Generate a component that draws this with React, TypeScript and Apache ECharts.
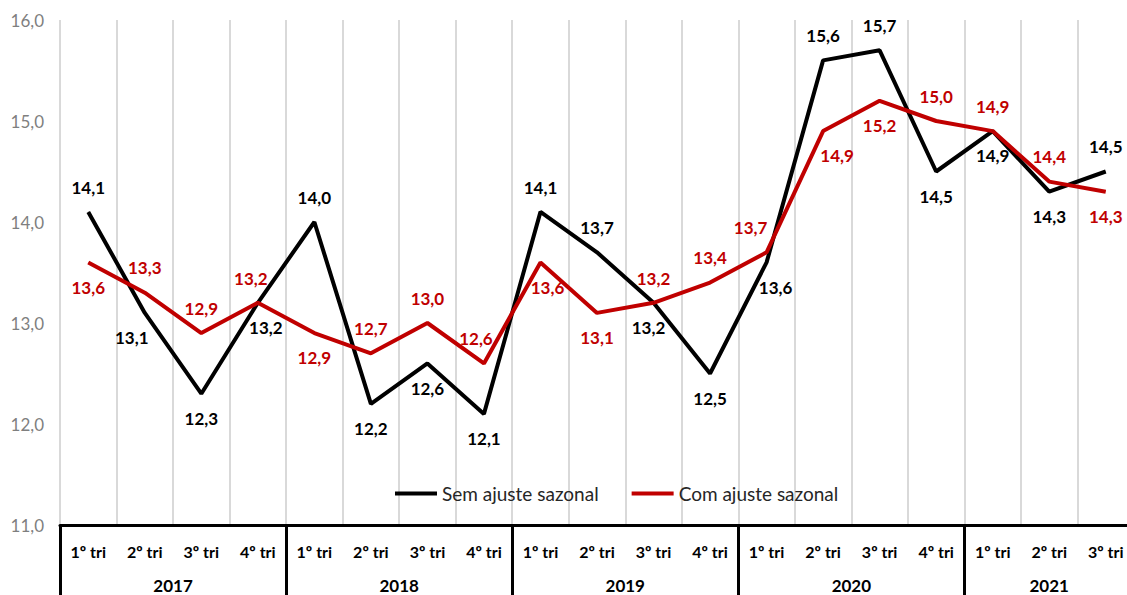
import React, { useEffect, useRef } from "react";
import * as echarts from "echarts";

const quarters = [
  "1º tri", "2º tri", "3º tri", "4º tri",
  "1º tri", "2º tri", "3º tri", "4º tri",
  "1º tri", "2º tri", "3º tri", "4º tri",
  "1º tri", "2º tri", "3º tri", "4º tri",
  "1º tri", "2º tri", "3º tri",
];
const years = ["2017", "2018", "2019", "2020", "2021"];
const quartersPerYear = [4, 4, 4, 4, 3];
const semAjuste = [14.1, 13.1, 12.3, 13.2, 14.0, 12.2, 12.6, 12.1, 14.1, 13.7, 13.2, 12.5, 13.6, 15.6, 15.7, 14.5, 14.9, 14.3, 14.5];
const comAjuste = [13.6, 13.3, 12.9, 13.2, 12.9, 12.7, 13.0, 12.6, 13.6, 13.1, 13.2, 13.4, 13.7, 14.9, 15.2, 15.0, 14.9, 14.4, 14.3];
const yTicks = { min: 11, max: 16, interval: 1 };

const fmt = (v: number) => v.toFixed(1).replace(".", ",");
const FONT = "Lato, 'Open Sans', sans-serif";

// horizontal label nudges (px), as Excel placed a few labels sideways
const semNudge: Record<number, number> = { 1: -13, 3: 8, 10: -5, 12: 9 };
const comNudge: Record<number, number> = { 3: -7, 7: -8, 8: 7, 12: -16, 13: 14 };

export default function App() {
  const ref = useRef<HTMLDivElement>(null);
  useEffect(() => {
    if (!ref.current) return;
    const chart = echarts.init(ref.current, null, { renderer: "svg" });

    const yearCenters: Record<string, string> = {};
    const yearStarts: number[] = [];
    let acc = 0;
    quartersPerYear.forEach((n, k) => {
      yearStarts.push(acc);
      yearCenters[String(acc + n / 2)] = years[k];
      acc += n;
    });

    const labelBase = {
      show: true,
      fontFamily: FONT,
      fontWeight: "bold" as const,
      fontSize: 17,
      distance: 16,
      formatter: (p: any) => fmt(Number(p.value)),
    };

    const semData = semAjuste.map((v, i) => ({
      value: v,
      label: { position: v > comAjuste[i] ? "top" : "bottom" },
    }));
    const comData = comAjuste.map((v, i) => ({
      value: v,
      label: { position: semAjuste[i] > v ? "bottom" : "top" },
    }));

    const lineSeries = (name: string, data: number[], color: string) => ({
      name,
      type: "line",
      data,
      symbol: "none",
      itemStyle: { color },
      lineStyle: { color, width: 4 },
      z: 2,
    });
    const labelSeries = (name: string, data: any[], color: string, nudge: Record<number, number>) => ({
      name,
      type: "line",
      data,
      symbol: "circle",
      symbolSize: 0.5,
      showSymbol: true,
      itemStyle: { color },
      lineStyle: { width: 0, opacity: 0 },
      label: { ...labelBase, color },
      labelLayout: (p: any) => ({ dx: nudge[p.dataIndex] || 0, hideOverlap: false }),
      silent: true,
      zlevel: 1,
      z: 5,
    });

    chart.setOption({
      animation: false,
      grid: { left: 60, top: 20, width: 1074, height: 505, outerBoundsMode: "none" },
      legend: {
        left: 390,
        top: 479,
        icon: "rect",
        itemWidth: 42,
        itemHeight: 4,
        itemGap: 33,
        textStyle: { fontFamily: FONT, fontSize: 19, color: "#262626" },
        data: ["Sem ajuste sazonal", "Com ajuste sazonal"],
      },
      xAxis: [
        {
          type: "category",
          data: quarters,
          boundaryGap: true,
          axisLine: { lineStyle: { color: "#000", width: 3 } },
          axisTick: {
            show: true,
            length: 72,
            lineStyle: { color: "#000", width: 3 },
            interval: (i: number) => yearStarts.includes(i),
          },
          axisLabel: {
            interval: 0,
            margin: 18,
            fontFamily: FONT,
            fontWeight: "bold",
            fontSize: 16,
            color: "#000",
          },
          splitLine: { show: true, lineStyle: { color: "#d9d9d9", width: 2 } },
        },
        {
          type: "value",
          position: "bottom",
          min: 0,
          max: 19,
          interval: 0.5,
          offset: 48,
          axisLine: { show: false },
          axisTick: { show: false },
          splitLine: { show: false },
          axisLabel: {
            margin: 4,
            fontFamily: FONT,
            fontWeight: "bold",
            fontSize: 17,
            color: "#000",
            formatter: (v: number) => yearCenters[String(v)] || "",
          },
        },
      ],
      yAxis: {
        type: "value",
        min: yTicks.min,
        max: yTicks.max,
        interval: yTicks.interval,
        axisLine: { show: false },
        axisTick: { show: false },
        splitLine: { show: false },
        axisLabel: {
          margin: 16,
          fontFamily: FONT,
          fontSize: 17,
          color: "#7f7f7f",
          formatter: (v: number) => fmt(v),
        },
      },
      series: [
        lineSeries("Sem ajuste sazonal", semAjuste, "#000000"),
        lineSeries("Com ajuste sazonal", comAjuste, "#c00000"),
        labelSeries("sem-labels", semData, "#000000", semNudge),
        labelSeries("com-labels", comData, "#c00000", comNudge),
      ],
    });
    return () => chart.dispose();
  }, []);
  return (
    <div
      ref={ref}
      style={{ position: "fixed", left: 0, top: 0, width: 1127, height: 595, background: "#fff" }}
    />
  );
}
